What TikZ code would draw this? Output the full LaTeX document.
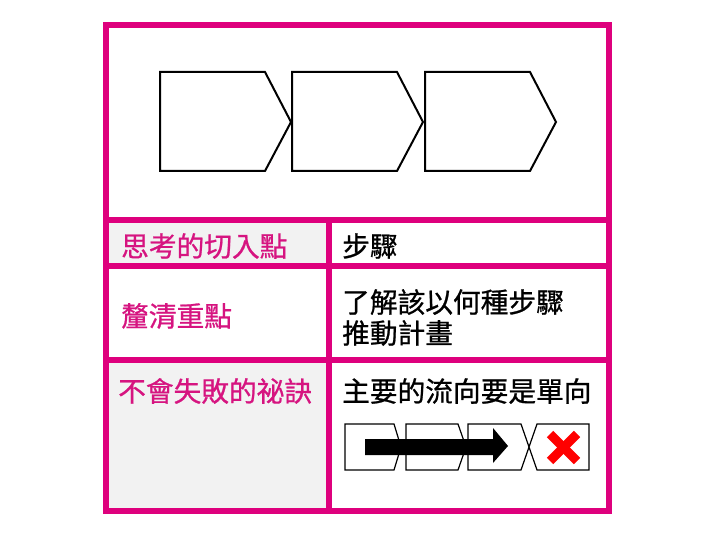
\documentclass[tikz,border=0pt]{standalone}
\usepackage{fontspec}
\setmainfont{Noto Sans CJK TC}[FakeBold=0.8]
\begin{document}
\begin{tikzpicture}[x=1pt,y=-1pt,
  frame/.style={draw=mag,line width=5.5pt},
  penta/.style={draw=black,line width=2pt,line join=miter},
  smallpenta/.style={draw=black,line width=1.2pt,line join=miter,fill=white},
  lbl/.style={anchor=west,inner sep=0pt,font=\fontsize{27.7}{32}\selectfont},
  maglbl/.style={lbl,text=magtext},
  blklbl/.style={lbl,text=black}]
\definecolor{mag}{RGB}{222,0,125}
\definecolor{magtext}{RGB}{214,20,128}
\definecolor{cellgray}{RGB}{242,242,242}
\useasboundingbox (0,0) rectangle (709,537);
\fill[white] (0,0) rectangle (709,537);
% gray cells
\fill[cellgray] (106,220) rectangle (329,266);
\fill[cellgray] (106,360) rectangle (329,511);
% big pentagons
\draw[penta] (160,72) -- (265,72) -- (291,122) -- (265,171) -- (160,171) -- cycle;
\draw[penta] (292,72) -- (397,72) -- (423,122) -- (397,171) -- (292,171) -- cycle;
\draw[penta] (425,72) -- (530,72) -- (556,122) -- (530,171) -- (425,171) -- cycle;
% small pentagons
\draw[smallpenta] (345,424) -- (394,424) -- (401,447) -- (394,470) -- (345,470) -- cycle;
\draw[smallpenta] (406,424) -- (458,424) -- (466,447) -- (458,470) -- (406,470) -- cycle;
\draw[smallpenta] (468,424) -- (521,424) -- (529,447) -- (521,470) -- (468,470) -- cycle;
\draw[smallpenta] (537,424) -- (589,424) -- (589,470) -- (537,470) -- (529,447) -- cycle;
% big arrow
\fill[black] (365,439) -- (493,439) -- (493,428) -- (508,446) -- (493,463) -- (493,455) -- (365,455) -- cycle;
% red cross
\draw[red,line width=9pt] (550,434) -- (577,461);
\draw[red,line width=9pt] (577,434) -- (550,461);
% frame and grid
\draw[frame] (106,25) rectangle (609,511);
\draw[frame] (106,220) -- (609,220);
\draw[frame] (106,266) -- (609,266);
\draw[frame] (106,360) -- (609,360);
\draw[frame] (329,220) -- (329,511);
% texts
\node[maglbl] (t1) at (121,246) {思考的切入點};
\node[blklbl] (t2) at (342,246) {步驟};
\node[maglbl] (t3) at (121,316) {釐清重點};
\node[blklbl] (t4) at (342,302) {了解該以何種步驟};
\node[blklbl] (t5) at (342,333) {推動計畫};
\node[maglbl] (t6) at (118,391) {不會失敗的祕訣};
\node[blklbl] (t7) at (342,391) {主要的流向要是單向};
\end{tikzpicture}
\end{document}
